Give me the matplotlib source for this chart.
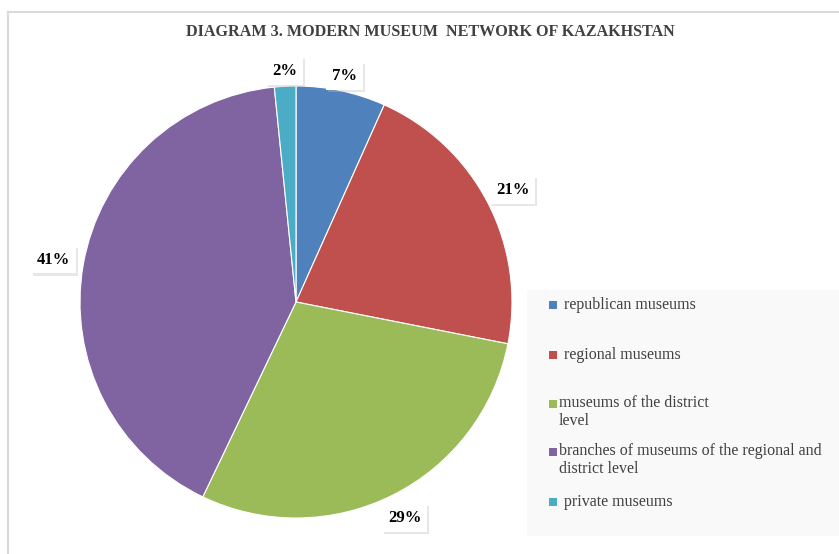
import matplotlib
matplotlib.use("Agg")
import numpy as np
import matplotlib.pyplot as plt
from matplotlib.patches import Rectangle
from matplotlib.lines import Line2D
import matplotlib.patheffects as pe

categories = ["republican museums", "regional museums",
              "museums of the district\nlevel",
              "branches of museums of the regional and\ndistrict level",
              "private museums"]
shares = [6.7, 21.4, 29.0, 41.3, 1.6]
colors = ["#4F81BD", "#C0504D", "#9BBB59", "#8064A2", "#4BACC6"]
title = "DIAGRAM 3. MODERN MUSEUM  NETWORK OF KAZAKHSTAN"

plt.rcParams['font.family'] = ['Liberation Serif', 'DejaVu Serif']

W, H = 839, 554
fig = plt.figure(figsize=(W / 100, H / 100), dpi=100)

# border lines
fig.add_artist(Line2D([8 / W, 838 / W], [1 - 12 / H, 1 - 12 / H], color="#d9d9d9", lw=1.5))
fig.add_artist(Line2D([8 / W, 8 / W], [0, 1 - 12 / H], color="#d9d9d9", lw=1.5))

# title
fig.text(430 / W, 1 - 32 / H, title, ha="center", va="center",
         fontsize=11.6, fontweight="bold", color="#404040")

# pie
cx, cy, r = 296, 302, 216
ax = fig.add_axes([(cx - r) / W, (H - cy - r) / H, 2 * r / W, 2 * r / H])
wedges, texts, autotexts = ax.pie(
    shares, colors=colors, startangle=90, counterclock=False,
    autopct="%.0f%%", pctdistance=1.11, radius=1.0,
    wedgeprops=dict(linewidth=0.8, edgecolor="white"),
    textprops=dict(fontsize=12, fontweight="bold", color="black"))
label_dist = [1.07, 1.13, 1.12, 1.14, 1.07]
for w, t, d in zip(wedges, autotexts, label_dist):
    ang = np.deg2rad((w.theta1 + w.theta2) / 2)
    t.set_position((d * np.cos(ang), d * np.sin(ang)))
    t.set_bbox(dict(boxstyle="square,pad=0.35", facecolor="white", edgecolor="none"))
    t.get_bbox_patch().set_path_effects(
        [pe.SimplePatchShadow(offset=(1.5, -1.5), shadow_rgbFace="#bbbbbb", alpha=0.35), pe.Normal()])
ax.set_xlim(-1, 1)
ax.set_ylim(-1, 1)
ax.set_aspect("equal")
ax.axis("off")

# legend panel
fig.add_artist(Rectangle((527 / W, (H - 536) / H), (839 - 527) / W, (536 - 290) / H,
                         facecolor="#f9f9f9", edgecolor="none", zorder=0))
item_y = [305, 355, 404, 452, 502]
text_x = [564, 564, 559, 559, 564]
for lab, col, y, tx in zip(categories, colors, item_y, text_x):
    fig.add_artist(Rectangle((549 / W, (H - y - 4) / H), 8 / W, 8 / H,
                             facecolor=col, edgecolor="none"))
    if "\n" in lab:
        fig.text(tx / W, (H - y + 9) / H, lab, ha="left", va="top",
                 fontsize=11.5, color="#404040", linespacing=1.15)
    else:
        fig.text(tx / W, (H - y) / H, lab, ha="left", va="center",
                 fontsize=11.5, color="#404040")

fig.savefig("out.png", dpi=100)
